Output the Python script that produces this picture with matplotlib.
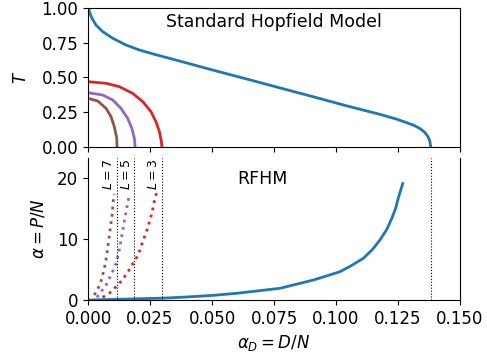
import numpy as np
import matplotlib
matplotlib.use("Agg")
import matplotlib.pyplot as plt

plt.rcParams["font.size"] = 12

# --- top panel: T vs alpha_D ---
hop_a = [0.0, 0.0003, 0.0008, 0.0016, 0.0032, 0.0059, 0.01, 0.0153, 0.0207,
         0.0261, 0.0328, 0.0395, 0.0504, 0.064, 0.0774, 0.0907, 0.1043,
         0.1177, 0.1245, 0.1285, 0.1315, 0.1339, 0.1358, 0.1371, 0.1378, 0.1382]
hop_T = [1.0, 0.993, 0.962, 0.926, 0.878, 0.83, 0.782, 0.734, 0.698,
         0.670, 0.638, 0.606, 0.553, 0.489, 0.425, 0.362, 0.296,
         0.235, 0.200, 0.175, 0.155, 0.132, 0.105, 0.074, 0.045, 0.0]

l3_a = [0.0, 0.0073, 0.0126, 0.018, 0.0221, 0.0254, 0.0274, 0.0288, 0.0296, 0.0298]
l3_T = [0.47, 0.458, 0.434, 0.386, 0.326, 0.254, 0.182, 0.110, 0.038, 0.0]
l5_a = [0.0, 0.0059, 0.01, 0.0133, 0.016, 0.0177, 0.0187, 0.019]
l5_T = [0.391, 0.374, 0.338, 0.278, 0.206, 0.134, 0.062, 0.0]
l7_a = [0.0, 0.0039, 0.0073, 0.0093, 0.0106, 0.0116, 0.0117]
l7_T = [0.35, 0.331, 0.278, 0.218, 0.146, 0.062, 0.0]

# --- bottom panel: alpha vs alpha_D ---
rfhm_a = [0.0, 0.01, 0.02, 0.03, 0.04, 0.05, 0.06, 0.0774, 0.0909, 0.1016,
          0.106, 0.111, 0.1145, 0.1177, 0.1205, 0.1225, 0.124, 0.1251, 0.1269]
rfhm_p = [0.0, 0.1, 0.2, 0.3, 0.5, 0.75, 1.1, 1.92, 3.28, 4.64,
          5.6, 6.84, 8.2, 9.84, 11.6, 13.4, 15.0, 16.7, 19.1]

d3_a = [0.0059, 0.0086, 0.0106, 0.0126, 0.0142, 0.016, 0.0173, 0.0191, 0.0204,
        0.0221, 0.0238, 0.025, 0.0261, 0.0267, 0.0274, 0.0277]
d3_p = [0.44, 1.1, 1.9, 2.7, 3.55, 4.5, 5.5, 6.6, 7.6,
        9.6, 11.5, 13.1, 14.9, 16.1, 17.2, 18.1]
d5_a = [0.0036, 0.0052, 0.007, 0.0083, 0.0102, 0.0116, 0.0126, 0.0137,
        0.0146, 0.0156, 0.0167]
d5_p = [0.44, 1.37, 2.2, 3.28, 4.9, 6.3, 8.2, 10.7, 12.8, 15.0, 17.4]
d7_a = [0.0025, 0.0039, 0.0052, 0.0066, 0.0075, 0.0083, 0.009, 0.0097,
        0.0102, 0.0106]
d7_p = [0.82, 1.75, 3.0, 5.2, 7.2, 9.6, 11.8, 13.9, 16.3, 17.4]

vlines = [0.0116, 0.0187, 0.0298, 0.1382]
vlabels = ["$L=7$", "$L=5$", "$L=3$", None]

fig = plt.figure(figsize=(4.87, 3.58), dpi=100)
ax1 = fig.add_axes([0.1807, 0.5894, 0.7639, 0.3883])
ax2 = fig.add_axes([0.1807, 0.162, 0.7639, 0.3967])

ax1.plot(hop_a, hop_T, color="tab:blue", lw=2)
ax1.plot(l3_a, l3_T, color="tab:red", lw=2)
ax1.plot(l5_a, l5_T, color="tab:purple", lw=2)
ax1.plot(l7_a, l7_T, color="tab:brown", lw=2)
ax1.set_xlim(0, 0.15)
ax1.set_ylim(0, 1)
ax1.set_yticks([0, 0.25, 0.5, 0.75, 1.0])
ax1.set_xticks([0, 0.025, 0.05, 0.075, 0.1, 0.125, 0.15])
ax1.set_xticklabels([])
ax1.set_ylabel("$T$", labelpad=8)
ax1.text(0.5, 0.9, "Standard Hopfield Model", transform=ax1.transAxes,
         ha="center", va="center", fontsize=12.5)

ax2.plot(rfhm_a, rfhm_p, color="tab:blue", lw=2)
ax2.plot(d3_a, d3_p, color="tab:red", lw=2, ls=":")
ax2.plot(d5_a, d5_p, color="tab:purple", lw=2, ls=":")
ax2.plot(d7_a, d7_p, color="tab:brown", lw=2, ls=":")
for xv, lab in zip(vlines, vlabels):
    ax2.axvline(xv, color="black", ls=":", lw=0.8)
    if lab:
        ax2.text(xv - 0.0007, 23.2, lab, rotation=90, ha="right", va="top",
                 fontsize=9)
ax2.set_xlim(0, 0.15)
ax2.set_ylim(0, 23.3)
ax2.set_yticks([0, 10, 20])
ax2.set_xticks([0, 0.025, 0.05, 0.075, 0.1, 0.125, 0.15])
ax2.set_xticklabels(["0.000", "0.025", "0.050", "0.075", "0.100", "0.125", "0.150"])
ax2.spines["top"].set_visible(False)
ax2.set_ylabel(r"$\alpha = P/N$", labelpad=7)
ax2.set_xlabel(r"$\alpha_D = D/N$")
ax2.text(0.47, 0.85, "RFHM", transform=ax2.transAxes, ha="center", va="center",
         fontsize=12.5)

fig.savefig("out.png", dpi=100)
